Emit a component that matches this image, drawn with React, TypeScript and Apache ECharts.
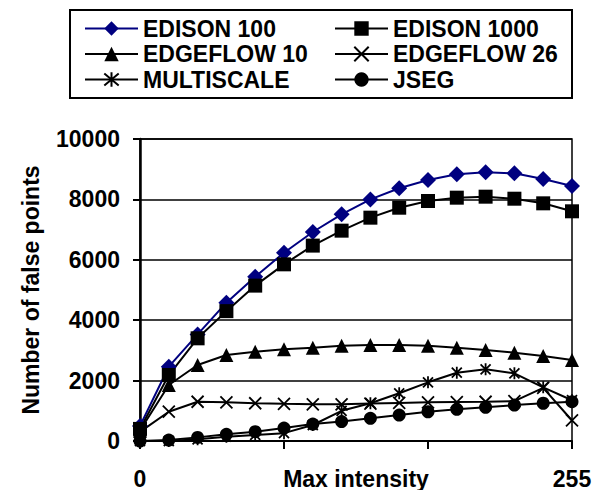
import React, { useEffect, useRef } from "react";
import * as echarts from "echarts";

const categories = ["0", "17", "34", "51", "68", "85", "102", "119", "136", "153", "170", "187", "204", "221", "238", "255"];
const edison100 = [500, 2460, 3530, 4580, 5440, 6235, 6920, 7507, 8000, 8368, 8642, 8830, 8897, 8864, 8675, 8444];
const edison1000 = [400, 2185, 3400, 4300, 5145, 5850, 6470, 6965, 7395, 7725, 7947, 8057, 8090, 8023, 7870, 7606];
const edgeflow10 = [350, 1854, 2517, 2848, 2957, 3036, 3090, 3150, 3179, 3179, 3156, 3090, 3013, 2924, 2815, 2682];
const edgeflow26 = [300, 970, 1300, 1280, 1250, 1230, 1215, 1215, 1240, 1260, 1280, 1290, 1300, 1320, 1760, 680];
const multiscale = [0, 0, 55, 143, 200, 260, 530, 1000, 1250, 1580, 1943, 2262, 2373, 2241, 1778, 1350];
const jseg = [0, 30, 120, 220, 310, 430, 560, 645, 750, 860, 965, 1050, 1115, 1190, 1250, 1300];
const shownXLabels = ["0", "255"];
const yTicks = [0, 2000, 4000, 6000, 8000, 10000];

const FONT = "'Liberation Sans', Arial, sans-serif";

export default function App() {
  const ref = useRef<HTMLDivElement>(null);
  useEffect(() => {
    if (!ref.current) return;
    const chart = echarts.init(ref.current, null, { renderer: "svg" });
    const mk = (name: string, data: number[], symbol: string, size: number, color: string, stroked = false) => ({
      name,
      type: "line",
      data,
      symbol,
      symbolSize: size,
      symbolKeepAspect: true,
      lineStyle: { color, width: 2 },
      itemStyle: stroked
        ? { color: "#000", borderColor: "#000", borderWidth: 1.8 }
        : { color, borderWidth: 0 },
      emphasis: { disabled: true },
    });
    const legendCommon = {
      orient: "vertical",
      top: 16,
      padding: 0,
      itemWidth: 53,
      itemHeight: 18,
      itemGap: 0.5,
      selectedMode: false,
      textStyle: { fontFamily: FONT, fontWeight: "bold", fontSize: 23, lineHeight: 25, color: "#000" },
    };
    chart.setOption({
      animation: false,
      backgroundColor: "#fff",
      graphic: [
        {
          type: "rect",
          shape: { x: 70, y: 10, width: 502, height: 88 },
          style: { fill: "none", stroke: "#000", lineWidth: 2 },
          z: 100,
        },
      ],
      legend: [
        { ...legendCommon, left: 84, data: ["EDISON 100", "EDGEFLOW 10", "MULTISCALE"] },
        { ...legendCommon, left: 334, data: ["EDISON 1000", "EDGEFLOW 26", "JSEG"] },
      ],
      grid: {
        left: 140,
        right: 29,
        top: 139,
        bottom: 49,
        outerBoundsMode: "none",
        containLabel: false,
        show: true,
        borderColor: "#000",
        borderWidth: 1.5,
        backgroundColor: "transparent",
      },
      xAxis: {
        type: "category",
        data: categories,
        boundaryGap: false,
        name: "Max intensity",
        nameLocation: "middle",
        nameGap: 26,
        nameMoveOverlap: false,
        nameTextStyle: {
          fontFamily: FONT,
          fontWeight: "bold",
          fontSize: 23,
          lineHeight: 23,
          color: "#000",
          verticalAlign: "top",
        },
        axisLine: { lineStyle: { color: "#000", width: 2 } },
        axisTick: { show: true, interval: 4, length: 8, lineStyle: { color: "#000", width: 2 } },
        axisLabel: {
          interval: 0,
          margin: 26,
          fontFamily: FONT,
          fontWeight: "bold",
          fontSize: 23,
          lineHeight: 23,
          color: "#000",
          formatter: (v: string) => (shownXLabels.includes(v) ? v : ""),
        },
        splitLine: { show: false },
      },
      yAxis: {
        type: "value",
        min: yTicks[0],
        max: yTicks[yTicks.length - 1],
        interval: 2000,
        name: "Number of false points",
        nameLocation: "middle",
        nameGap: 98,
        nameMoveOverlap: false,
        nameTextStyle: { fontFamily: FONT, fontWeight: "bold", fontSize: 23, color: "#000" },
        axisLine: { show: true, lineStyle: { color: "#000", width: 2.5 } },
        axisTick: { show: true, length: 7, lineStyle: { color: "#000", width: 2 } },
        axisLabel: {
          margin: 20,
          fontFamily: FONT,
          fontWeight: "bold",
          fontSize: 23,
          color: "#000",
          formatter: (v: number) => String(v),
        },
        splitLine: { show: true, lineStyle: { color: "#000", width: 1.5 } },
      },
      series: [
        mk("EDISON 100", edison100, "diamond", 16, "#000080"),
        mk("EDISON 1000", edison1000, "rect", 14, "#000"),
        mk("EDGEFLOW 10", edgeflow10, "triangle", 14, "#000"),
        mk("EDGEFLOW 26", edgeflow26, "path://M0,0L10,10M10,0L0,10", 12, "#000", true),
        mk("MULTISCALE", multiscale, "path://M5,-1L5,11M0,0L10,10M10,0L0,10", 12, "#000", true),
        mk("JSEG", jseg, "circle", 13, "#000"),
      ],
    });
    return () => chart.dispose();
  }, []);
  return <div ref={ref} style={{ width: 601, height: 490, position: "absolute", left: 0, top: 0 }} />;
}
